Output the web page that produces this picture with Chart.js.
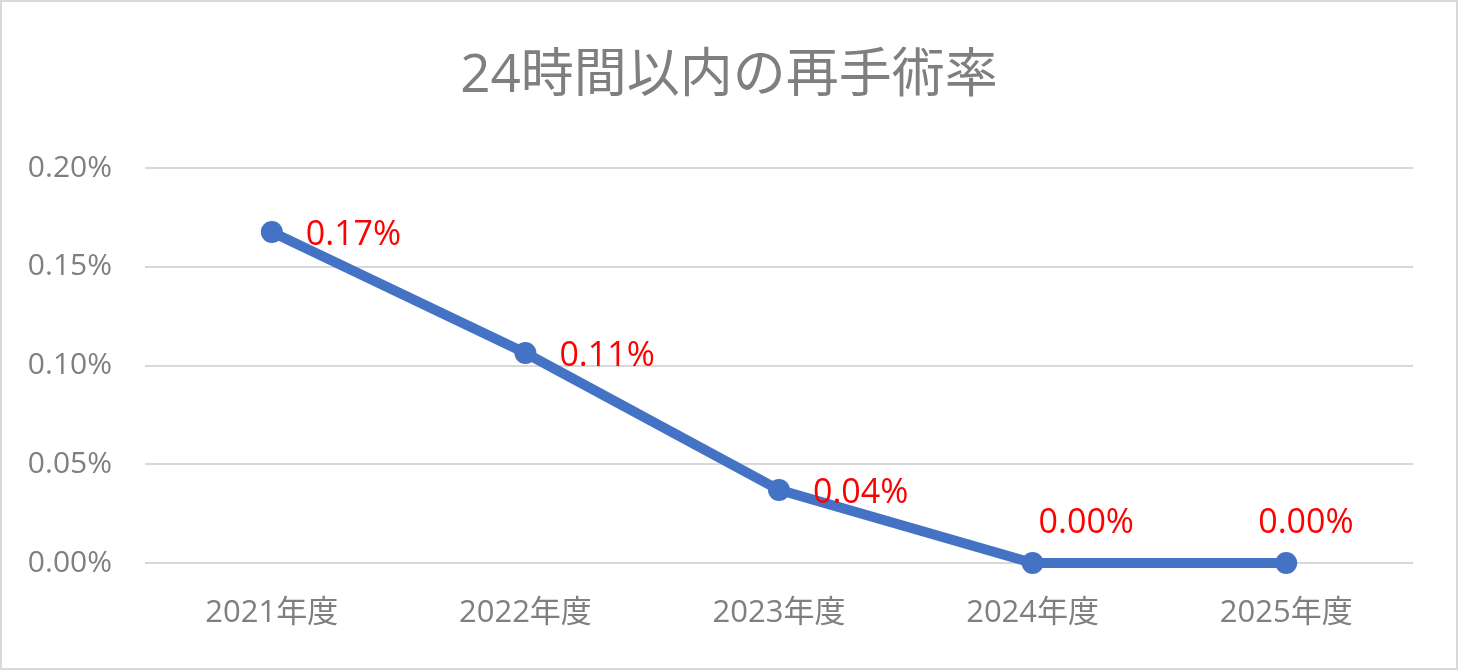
<!DOCTYPE html>
<html><head><meta charset="utf-8">
<script src="https://cdn.jsdelivr.net/npm/chart.js@4"></script>
<style>html,body{margin:0;padding:0;background:#fff}#wrap{width:1458px;height:670px;position:relative}</style>
</head><body><div id="wrap"><canvas id="c" width="1458" height="670"></canvas></div>
<script>
const categories = ['2021年度','2022年度','2023年度','2024年度','2025年度'];
const rates = [0.1676, 0.1063, 0.037, 0, 0];
const yTicks = [0, 0.05, 0.10, 0.15, 0.20];
const titleText = '24時間以内の再手術率';

const FONT = "'Open Sans','Noto Sans CJK JP',sans-serif";

const borderPlugin = {
  id: 'outerBorder',
  beforeDraw(chart) {
    const ctx = chart.ctx;
    ctx.save();
    ctx.fillStyle = '#fff';
    ctx.fillRect(0, 0, chart.width, chart.height);
    ctx.strokeStyle = '#d9d9d9';
    ctx.lineWidth = 2;
    ctx.strokeRect(1, 1, chart.width - 2, chart.height - 2);
    ctx.restore();
  }
};

const titlePlugin = {
  id: 'centerTitle',
  afterDraw(chart, args, opts) {
    const ctx = chart.ctx;
    ctx.save();
    ctx.font = "53px " + FONT;
    ctx.fillStyle = '#7f7f7f';
    ctx.textAlign = 'center';
    ctx.textBaseline = 'middle';
    ctx.fillText(opts.text, chart.width / 2, 77);
    ctx.restore();
  }
};

const labelPlugin = {
  id: 'valueLabels',
  afterDatasetsDraw(chart, args, opts) {
    const ctx = chart.ctx;
    const meta = chart.getDatasetMeta(0);
    ctx.save();
    ctx.font = "34px " + FONT;
    ctx.fillStyle = '#ff0000';
    ctx.textAlign = 'left';
    ctx.textBaseline = 'middle';
    meta.data.forEach((pt, i) => {
      const v = chart.data.datasets[0].data[i];
      const txt = v.toFixed(2) + '%';
      const o = opts.offsets[i];
      ctx.fillText(txt, pt.x + o[0], pt.y + o[1]);
    });
    ctx.restore();
  }
};

new Chart(document.getElementById('c'), {
  type: 'line',
  data: {
    labels: categories,
    datasets: [{
      data: rates,
      borderColor: '#4472c4',
      backgroundColor: '#4472c4',
      borderWidth: 10,
      pointRadius: 11,
      pointHoverRadius: 11,
      pointBorderWidth: 0,
      tension: 0,
      clip: false
    }]
  },
  options: {
    responsive: false,
    animation: false,
    devicePixelRatio: 1,
    layout: { padding: { left: 0, right: 45, top: 168, bottom: 0 } },
    plugins: {
      legend: { display: false },
      tooltip: { enabled: false },
      title: { display: false },
      centerTitle: { text: titleText },
      valueLabels: { offsets: [[34, 3], [34, 3], [34, 3], [6, -40], [-28, -40]] }
    },
    scales: {
      x: {
        offset: true,
        grid: { display: false, drawTicks: false, offset: true },
        border: { display: false },
        ticks: { color: '#7f7f7f', font: { family: FONT, size: 31 }, padding: 32, maxRotation: 0 },
        afterFit(s) { s.height = 107; }
      },
      y: {
        min: 0, max: 0.2,
        afterBuildTicks(s) { s.ticks = yTicks.map(v => ({ value: v })); },
        grid: { color: '#d9d9d9', lineWidth: 2, drawTicks: false },
        border: { display: false },
        ticks: { color: '#7f7f7f', font: { family: FONT, size: 30 }, padding: 33,
                 callback: v => v.toFixed(2) + '%' },
        afterFit(s) { s.width = 145; }
      }
    }
  },
  plugins: [borderPlugin, labelPlugin, titlePlugin]
});
</script></body></html>
